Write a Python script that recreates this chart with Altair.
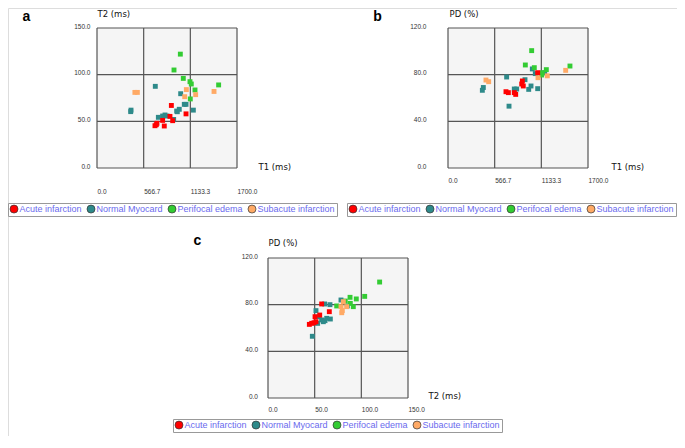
import altair as alt
import pandas as pd

GROUPS = ["Acute infarction", "Normal Myocard", "Perifocal edema", "Subacute infarction"]
COLORS = ["#ff0000", "#2e8a8a", "#33cc33", "#ffaa66"]

# ---- panel a: T1 (ms) vs T2 (ms)
a_acute_t1 = [903, 1081, 886, 797, 919, 728, 704, 720, 817]
a_acute_t2 = [67, 58, 55.3, 51, 50.7, 47.9, 45.3, 46.4, 45]
a_normal_t1 = [708, 1016, 413, 409, 1060, 1081, 999, 968, 975, 1170, 826, 797, 850, 745, 931]
a_normal_t2 = [87.5, 79.6, 62, 60.4, 68.2, 68.2, 62.9, 61, 60.3, 62, 56.8, 55.7, 55.7, 54.3, 52]
a_edema_t1 = [1012, 935, 1048, 1129, 1145, 1190, 1477, 1133]
a_edema_t2 = [122, 105, 96, 92.5, 90, 83.6, 89, 74]
a_subacute_t1 = [460, 490, 1085, 1198, 1065, 1421]
a_subacute_t2 = [81, 81, 84, 78.6, 76.4, 82]

# ---- panel b: T1 (ms) vs PD (%)
b_acute_t1 = [1089, 903, 895, 914, 704, 733, 805, 822]
b_acute_pd = [81.7, 74.6, 72, 70.3, 65.4, 64.6, 64.6, 63.1]
b_normal_t1 = [1024, 712, 1060, 1174, 935, 1008, 980, 834, 805, 1089, 429, 417, 741]
b_normal_pd = [84.9, 78, 80.9, 81.7, 75.7, 70.3, 67.4, 67.7, 67.7, 68, 69, 66.6, 53]
b_edema_t1 = [1016, 939, 1048, 1194, 1481, 1137, 1145]
b_edema_pd = [100.6, 88.3, 86, 84.3, 87.4, 79.7, 81.7]
b_subacute_t1 = [1429, 1206, 1093, 461, 494]
b_subacute_pd = [83.7, 79, 77.4, 75.4, 74]

# ---- panel c: T2 (ms) vs PD (%)
c_acute_t2 = [57.5, 65.7, 50.4, 55.4, 44.3, 46.8, 49.3, 51.4]
c_acute_pd = [80.6, 74, 69.7, 71.1, 63.1, 64, 64.5, 65.4]
c_normal_t2 = [78.2, 85, 60.7, 66.4, 51.4, 55, 57.5, 59.3, 61.1, 62.9, 66.8, 53.2, 47.5]
c_normal_pd = [84, 78.9, 80.6, 80, 74.9, 69.7, 66.9, 65.4, 66.3, 68.3, 67.7, 64, 52.9]
c_edema_t2 = [119.6, 103.6, 94.6, 87.9, 88.2, 91.4, 82.8, 73.6]
c_edema_pd = [99.4, 87.1, 84.9, 86.3, 81.1, 78.3, 83.1, 78.9]
c_subacute_t2 = [80.7, 78.2, 79.6, 79, 84.3]
c_subacute_pd = [82.6, 78.3, 74.9, 73.1, 78.3]

# axis tick values
T1_TICKS = [0, 1700 / 3, 3400 / 3, 1700]
T2_TICKS = [0, 50, 100, 150]
PD_TICKS = [0, 40, 80, 120]

W, H = 669, 428
LABEL_FONT = "Liberation Sans"
TITLE_FONT = "DejaVu Sans"


def points_frame(series):
    rows = []
    for grp, xs, ys in series:
        for xv, yv in zip(xs, ys):
            rows.append({"x": xv, "y": yv, "group": grp})
    return pd.DataFrame(rows)


def panel(series, xticks, yticks, xrange_, yrange_, xaxis, yaxis, legend_xy):
    xdom = [xticks[0], xticks[-1]]
    ydom = [yticks[0], yticks[-1]]
    xs = alt.Scale(domain=xdom, range=xrange_, nice=False, zero=False)
    ys = alt.Scale(domain=ydom, range=yrange_, nice=False, zero=False)
    common_axis = dict(ticks=False, tickSize=0, domain=False, grid=False, format=".1f",
                       labelFont=LABEL_FONT, labelFontSize=6.5, labelColor="#333333",
                       labelFlush=False, labelOverlap=False, titleFont=TITLE_FONT,
                       titleFontSize=8.5, titleFontWeight="normal", titleColor="#111111",
                       titleAngle=0, titleAlign="left", titleBaseline="middle",
                       titlePadding=0)
    ax = alt.Axis(values=xticks, orient="bottom", labelAlign="left", **xaxis, **common_axis)
    ay = alt.Axis(values=yticks, orient="left", labelBaseline="alphabetic", **yaxis, **common_axis)
    X = lambda: alt.X("x:Q", scale=xs, axis=ax)
    Y = lambda: alt.Y("y:Q", scale=ys, axis=ay)

    bg = alt.Chart(pd.DataFrame({"x": [xdom[0]], "x2": [xdom[1]], "y": [ydom[0]], "y2": [ydom[1]]})).mark_rect(
        fill="#f5f5f5").encode(x=X(), x2="x2:Q", y=Y(), y2="y2:Q")
    vgrid = alt.Chart(pd.DataFrame({"x": xticks, "y": [ydom[0]] * 4, "y2": [ydom[1]] * 4})).mark_rule(
        color="#555555", strokeWidth=1.2).encode(x=X(), y=Y(), y2="y2:Q")
    hgrid = alt.Chart(pd.DataFrame({"y": yticks, "x": [xdom[0]] * 4, "x2": [xdom[1]] * 4})).mark_rule(
        color="#555555", strokeWidth=1.2).encode(y=Y(), x=X(), x2="x2:Q")
    pts = alt.Chart(points_frame(series)).mark_square(size=24, opacity=1).encode(
        x=X(), y=Y(),
        color=alt.Color("group:N", scale=alt.Scale(domain=GROUPS, range=COLORS),
                        legend=alt.Legend(orient="none", legendX=legend_xy[0], legendY=legend_xy[1],
                                          direction="horizontal", title=None, symbolType="circle",
                                          symbolSize=64, symbolStrokeColor="#333333",
                                          symbolStrokeWidth=0.7, labelFont=LABEL_FONT,
                                          labelFontSize=9, labelColor="#6a6aee",
                                          strokeColor="#999999", fillColor="white",
                                          padding=1.5, columnPadding=3, labelOffset=1)))
    return alt.layer(bg, vgrid, hgrid, pts)


pa = panel(
    [("Normal Myocard", a_normal_t1, a_normal_t2), ("Perifocal edema", a_edema_t1, a_edema_t2),
     ("Subacute infarction", a_subacute_t1, a_subacute_t2), ("Acute infarction", a_acute_t1, a_acute_t2)],
    T1_TICKS, T2_TICKS, [89, 229], [160, 20],
    dict(offset=160 - H, labelPadding=20, title="T1 (ms)", titleX=250, titleY=-2),
    dict(offset=-89, labelPadding=7, title="T2 (ms)", titleX=0, titleY=5),
    (0, 195))

pb = panel(
    [("Normal Myocard", b_normal_t1, b_normal_pd), ("Perifocal edema", b_edema_t1, b_edema_pd),
     ("Subacute infarction", b_subacute_t1, b_subacute_pd), ("Acute infarction", b_acute_t1, b_acute_pd)],
    T1_TICKS, PD_TICKS, [440, 580], [160, 20],
    dict(offset=160 - H, labelPadding=9, title="T1 (ms)", titleX=603, titleY=-2),
    dict(offset=-440, labelPadding=22, title="PD (%)", titleX=1, titleY=5),
    (339, 195))

pc = panel(
    [("Normal Myocard", c_normal_t2, c_normal_pd), ("Perifocal edema", c_edema_t2, c_edema_pd),
     ("Subacute infarction", c_subacute_t2, c_subacute_pd), ("Acute infarction", c_acute_t2, c_acute_pd)],
    T2_TICKS, PD_TICKS, [260, 400], [390, 250],
    dict(offset=390 - H, labelPadding=8, title="T2 (ms)", titleX=420, titleY=-3),
    dict(offset=-260, labelPadding=10.5, title="PD (%)", titleX=0, titleY=234),
    (165, 411))


def letter(ch, px, py):
    return alt.Chart(pd.DataFrame({"t": [ch]})).mark_text(
        font=LABEL_FONT, fontSize=14, fontWeight="bold", color="#000000",
        align="center", baseline="alphabetic").encode(
        text="t:N", x=alt.value(px), y=alt.value(py))


chart = alt.layer(pa, pb, pc, letter("a", 18.5, 13), letter("b", 369.5, 13), letter("c", 189.5, 237)).resolve_scale(
    x="independent", y="independent", color="independent"
).properties(
    width=W, height=H, padding=0,
    autosize=alt.AutoSizeParams(type="none")
).configure_view(stroke=None).configure(background="white")

chart.save("out.html", embed_options={"renderer": "svg", "actions": False})
